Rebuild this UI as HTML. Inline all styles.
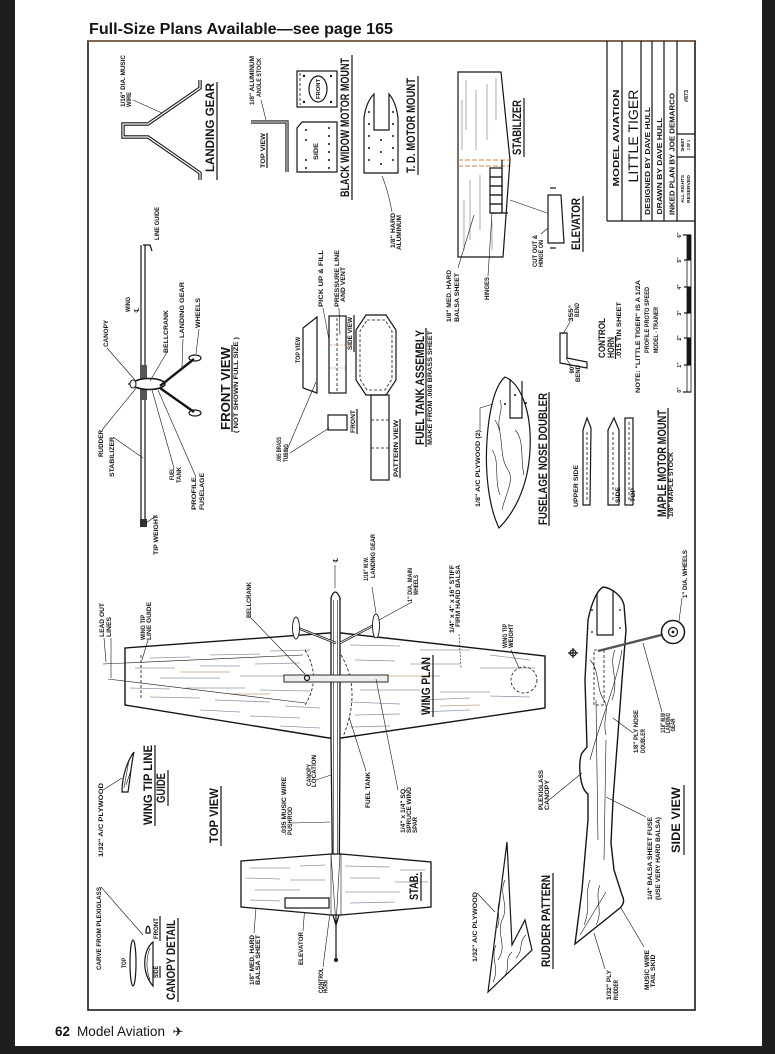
<!DOCTYPE html>
<html><head><meta charset="utf-8">
<style>
html,body{margin:0;padding:0;background:#fff;}
body{width:775px;height:1054px;overflow:hidden;position:relative;}
svg{position:absolute;left:0;top:0;}
text{text-anchor:middle;fill:#151515;}
.s{font:bold 6px "Liberation Sans",sans-serif;}
.h{font:bold 11.5px "Liberation Sans",sans-serif;}
.ln{stroke:#151515;fill:none;stroke-width:1.2;}
.th{stroke:#151515;fill:none;stroke-width:0.6;}
.dash{stroke:#151515;fill:none;stroke-width:0.8;stroke-dasharray:3 2;}
.gr{stroke:#8d98ab;stroke-width:0.8;fill:none;}
.go{stroke:#c9a07a;stroke-width:0.8;fill:none;}
</style></head><body>
<svg width="775" height="1054" viewBox="0 0 775 1054" xmlns="http://www.w3.org/2000/svg">
<!-- page borders -->
<rect x="0" y="0" width="15" height="1054" fill="#1e1e1e"/>
<rect x="762" y="0" width="13" height="1054" fill="#1e1e1e"/>
<rect x="0" y="1046" width="775" height="8" fill="#1e1e1e"/>

<!-- header / footer -->
<text x="89" y="34" style="text-anchor:start;font:bold 15.5px 'Liberation Sans',sans-serif" textLength="304" lengthAdjust="spacingAndGlyphs">Full-Size Plans Available—see page 165</text>
<text x="55" y="1036" style="text-anchor:start;font:bold 14px 'Liberation Sans',sans-serif" textLength="15" lengthAdjust="spacingAndGlyphs">62</text>
<text x="77" y="1036" style="text-anchor:start;font:14px 'Liberation Sans',sans-serif" textLength="88" lengthAdjust="spacingAndGlyphs">Model Aviation</text>
<text x="178" y="1036" style="font:13px 'DejaVu Sans',sans-serif">✈</text>

<!-- frame -->
<rect x="88" y="41" width="607" height="969" fill="none" stroke="#1a1a1a" stroke-width="1.6"/>
<line x1="88" y1="41" x2="695" y2="41" stroke="#a8743a" stroke-width="0.8"/>

<!-- title block -->
<g class="ln" stroke-width="1.2">
<line x1="607" y1="41" x2="607" y2="221"/>
<line x1="607" y1="221" x2="695" y2="221"/>
<line x1="622" y1="41" x2="622" y2="221"/>
<line x1="641" y1="41" x2="641" y2="221"/>
<line x1="652" y1="41" x2="652" y2="221"/>
<line x1="664" y1="41" x2="664" y2="221"/>
<line x1="677" y1="41" x2="677" y2="221"/>
<line x1="677" y1="134" x2="695" y2="134"/>
<line x1="677" y1="157" x2="695" y2="157"/>
</g>
<text transform="translate(619,138) rotate(-90)" style="font:bold 8.5px 'Liberation Sans',sans-serif" textLength="97" lengthAdjust="spacingAndGlyphs">MODEL   AVIATION</text>
<text transform="translate(638,136) rotate(-90)" style="font:13.5px 'Liberation Sans',sans-serif" textLength="93" lengthAdjust="spacingAndGlyphs">LITTLE TIGER</text>
<text transform="translate(650,161) rotate(-90)" style="font:bold 7px 'Liberation Sans',sans-serif" textLength="108" lengthAdjust="spacingAndGlyphs">DESIGNED  BY   DAVE  HULL</text>
<text transform="translate(662,166) rotate(-90)" style="font:bold 7px 'Liberation Sans',sans-serif" textLength="97" lengthAdjust="spacingAndGlyphs">DRAWN  BY  DAVE  HULL</text>
<text transform="translate(674.5,154) rotate(-90)" style="font:bold 7px 'Liberation Sans',sans-serif" textLength="122" lengthAdjust="spacingAndGlyphs">INKED  PLAN  BY  JOE  DEMARCO</text>
<text transform="translate(684,189) rotate(-90)" style="font:bold 4.5px 'Liberation Sans',sans-serif" textLength="28" lengthAdjust="spacingAndGlyphs">ALL  RIGHTS</text>
<text transform="translate(690,189) rotate(-90)" style="font:bold 4.5px 'Liberation Sans',sans-serif" textLength="28" lengthAdjust="spacingAndGlyphs">RESERVED</text>
<text transform="translate(684,145) rotate(-90)" style="font:bold 4.5px 'Liberation Sans',sans-serif" textLength="13" lengthAdjust="spacingAndGlyphs">SHEET</text>
<text transform="translate(690,145) rotate(-90)" style="font:bold 4.5px 'Liberation Sans',sans-serif" textLength="10" lengthAdjust="spacingAndGlyphs">1 OF 1</text>
<text transform="translate(688,96) rotate(-90)" style="font:bold 5px 'Liberation Sans',sans-serif" textLength="12" lengthAdjust="spacingAndGlyphs">#873</text>

<!-- scale bar -->
<rect x="687" y="235" width="4" height="157" fill="#fff" stroke="#151515" stroke-width="0.8"/>
<rect x="687" y="235" width="4" height="25" fill="#151515"/>
<rect x="687" y="287" width="4" height="26" fill="#151515"/>
<rect x="687" y="338" width="4" height="27" fill="#151515"/>
<g class="ln" stroke-width="0.8">
<line x1="683" y1="235" x2="691" y2="235"/><line x1="684" y1="260" x2="691" y2="260"/><line x1="684" y1="287" x2="691" y2="287"/>
<line x1="684" y1="313" x2="691" y2="313"/><line x1="684" y1="338" x2="691" y2="338"/><line x1="684" y1="365" x2="691" y2="365"/><line x1="683" y1="392" x2="691" y2="392"/>
</g>
<g class="s" style="font-size:5px">
<text transform="translate(681,235) rotate(-90)">6"</text>
<text transform="translate(681,260) rotate(-90)">5"</text>
<text transform="translate(681,287) rotate(-90)">4"</text>
<text transform="translate(681,313) rotate(-90)">3"</text>
<text transform="translate(681,338) rotate(-90)">2"</text>
<text transform="translate(681,365) rotate(-90)">1"</text>
<text transform="translate(681,390) rotate(-90)">0"</text>
</g>

<!-- LANDING GEAR (top left) -->
<path d="M200,80 L200,88 L148,124 L123,124 L123,137 L148,137 L200,173 L200,180" stroke="#151515" stroke-width="3.4" fill="none"/>
<path d="M200,80 L200,88 L148,124 L123,124 L123,137 L148,137 L200,173 L200,180" stroke="#fff" stroke-width="1.2" fill="none"/>
<line class="th" x1="133" y1="100" x2="162" y2="113"/>

<!-- angle stock -->
<path d="M251,122 L287,122 L287,172" stroke="#151515" stroke-width="3.2" fill="none"/>
<path d="M251,122 L287,122 L287,172" stroke="#fff" stroke-width="1" fill="none"/>
<line class="th" x1="261" y1="100" x2="266" y2="120"/>

<!-- black widow mount -->
<rect x="297" y="71" width="40" height="36" class="ln" stroke-width="1.4"/>
<line class="dash" x1="300" y1="73" x2="300" y2="105"/>
<ellipse cx="318" cy="89" rx="9" ry="13" class="ln"/>
<g fill="#151515"><circle cx="304" cy="76" r="1.2"/><circle cx="331" cy="76" r="1.2"/><circle cx="304" cy="102" r="1.2"/><circle cx="331" cy="102" r="1.2"/></g>
<path class="ln" stroke-width="1.4" d="M297,128 L302,122 L337,122 L337,172 L297,172 Z"/>
<g fill="#151515">
<circle cx="306" cy="130" r="1"/><circle cx="306" cy="140" r="1"/><circle cx="306" cy="160" r="1"/><circle cx="306" cy="168" r="1"/>
<circle cx="329" cy="128" r="1"/><circle cx="329" cy="136" r="1"/><circle cx="329" cy="144" r="1"/><circle cx="329" cy="152" r="1"/><circle cx="329" cy="160" r="1"/><circle cx="329" cy="168" r="1"/>
</g>

<!-- T.D. motor mount -->
<path class="ln" stroke-width="1.3" d="M364,173 L364,118 Q366,102 374,94 L374,130 L389,130 L389,94 Q396,102 398,118 L398,173 Z"/>
<g fill="#151515">
<circle cx="369" cy="112" r="1"/><circle cx="369" cy="124" r="1"/><circle cx="369" cy="136" r="1"/><circle cx="369" cy="148" r="1"/><circle cx="369" cy="160" r="1"/>
<circle cx="393" cy="112" r="1"/><circle cx="393" cy="124" r="1"/><circle cx="393" cy="136" r="1"/><circle cx="393" cy="148" r="1"/><circle cx="393" cy="160" r="1"/>
<circle cx="381" cy="140" r="1"/><circle cx="381" cy="152" r="1"/><circle cx="381" cy="164" r="1"/>
</g>
<path class="th" d="M392,212 Q388,190 382,176"/>

<!-- stabilizer (top right) -->
<polygon class="ln" stroke-width="1.3" points="458,72 501,72 510,160 503,257 458,257" fill="#fff"/>
<g class="gr">
<line x1="466" y1="80" x2="466" y2="130"/><line x1="476" y1="90" x2="476" y2="150"/><line x1="487" y1="84" x2="487" y2="140"/>
<line x1="496" y1="78" x2="496" y2="120"/><line x1="470" y1="180" x2="470" y2="240"/><line x1="480" y1="175" x2="480" y2="230"/>
<line x1="464" y1="200" x2="464" y2="250"/><line x1="462" y1="100" x2="462" y2="150"/><line x1="492" y1="220" x2="492" y2="250"/>
</g>
<line x1="458" y1="160" x2="509" y2="160" stroke="#c98a4a" stroke-width="0.9" stroke-dasharray="5 2"/>
<line x1="458" y1="166" x2="509" y2="166" stroke="#c98a4a" stroke-width="0.9" stroke-dasharray="5 2"/>
<g class="ln" stroke-width="0.7">
<rect x="490" y="168" width="12" height="9"/><rect x="490" y="177" width="12" height="9"/><rect x="490" y="186" width="12" height="9"/><rect x="490" y="195" width="12" height="9"/><rect x="490" y="204" width="12" height="9"/>
<line x1="502" y1="160" x2="502" y2="213"/>
<line x1="490" y1="213" x2="508" y2="213"/>
</g>
<polygon class="ln" points="548,195 561,195 564,243 548,243"/>
<line class="ln" x1="550" y1="188" x2="556" y2="188"/>
<line class="ln" x1="550" y1="248" x2="556" y2="248"/>
<line class="th" x1="510" y1="200" x2="547" y2="213"/>
<line class="th" x1="458" y1="268" x2="474" y2="215"/>
<line class="th" x1="488" y1="276" x2="492" y2="213"/>
<line class="th" x1="541" y1="234" x2="548" y2="228"/>

<!-- control horn -->
<path class="ln" d="M560,333 L567,333 L567,358 L587,362 L587,368 L560,363 Z"/>
<line class="th" x1="570" y1="322" x2="563" y2="334"/>
<line class="th" x1="571" y1="366" x2="566" y2="358"/>

<!-- FRONT VIEW -->
<line class="ln" stroke-width="0.9" x1="141" y1="245" x2="141" y2="527"/>
<line class="ln" stroke-width="0.9" x1="145" y1="245" x2="145" y2="527"/>
<path class="ln" d="M143,245 L150,245 L152,251"/>
<rect x="140" y="365" width="7" height="35" fill="#555"/>
<rect x="140" y="519" width="7" height="8" fill="#333"/>
<line class="ln" x1="128" y1="384" x2="143" y2="384"/>
<ellipse cx="149" cy="384" rx="16" ry="5.5" fill="#fff" stroke="#151515" stroke-width="1.5"/>
<ellipse cx="133" cy="384" rx="3" ry="4" fill="#fff" stroke="#151515" stroke-width="1"/>
<path d="M160,386 L194,359 M160,388 L194,412" stroke="#151515" stroke-width="2.4" fill="none"/>
<ellipse cx="195" cy="358" rx="6" ry="3" class="ln" fill="#fff"/>
<ellipse cx="195" cy="413" rx="6" ry="3" class="ln" fill="#fff"/>
<g class="th">
<line x1="107" y1="348" x2="135" y2="380"/><line x1="167" y1="352" x2="150" y2="381"/>
<line x1="183" y1="339" x2="182" y2="368"/><line x1="199" y1="329" x2="196" y2="354"/>
<line x1="102" y1="430" x2="137" y2="387"/><line x1="113" y1="437" x2="143" y2="458"/>
<line x1="174" y1="468" x2="152" y2="390"/><line x1="196" y1="477" x2="158" y2="390"/>
<line x1="157" y1="515" x2="146" y2="523"/>
</g>

<!-- FUEL TANK ASSEMBLY -->
<polygon class="ln" points="317,317 317,393 303,388 303,328"/>
<rect x="329" y="316" width="17" height="77" class="ln"/>
<line class="dash" x1="337" y1="318" x2="337" y2="391"/>
<line x1="330" y1="345" x2="345" y2="345" stroke="#c98a4a" stroke-dasharray="2 1.5" stroke-width="0.8"/>
<line x1="330" y1="368" x2="345" y2="368" stroke="#c98a4a" stroke-dasharray="2 1.5" stroke-width="0.8"/>
<polygon class="ln" points="366,315 386,315 396,330 396,380 386,395 366,395 356,380 356,330"/>
<polygon class="dash" points="367,320 385,320 392,331 392,379 385,390 367,390 360,379 360,331"/>
<rect x="371" y="395" width="18" height="85" class="ln"/>
<line class="dash" x1="371" y1="420" x2="389" y2="420"/>
<line class="dash" x1="371" y1="448" x2="389" y2="448"/>
<rect x="328" y="415" width="19" height="15" class="ln"/>
<g class="th">
<line x1="287" y1="450" x2="316" y2="382"/><line x1="290" y1="453" x2="329" y2="428"/>
<line x1="323" y1="308" x2="329" y2="340"/><line x1="339" y1="308" x2="340" y2="335"/>
</g>

<!-- fuselage nose doubler -->
<path class="ln" stroke-width="1.3" d="M505,377 C520,383 532,410 530,450 C528,490 512,515 499,528 C488,505 485,470 487,440 C489,410 495,385 505,377 Z"/>
<path class="ln" d="M510,379 L510,418 L522,418 L522,381"/>
<g class="th">
<path d="M495,420 C505,435 498,455 508,470 C515,480 505,495 502,510"/>
<path d="M492,450 C500,460 494,480 500,495"/>
<path d="M515,430 C525,440 520,460 524,475"/>
<path d="M500,400 C504,410 496,420 500,430"/>
<path d="M480,430 L480,408 L493,404"/>
</g>
<g fill="#151515"><circle cx="515" cy="395" r="1"/><circle cx="526" cy="403" r="1"/><circle cx="505" cy="404" r="1"/></g>

<!-- maple motor mount pieces -->
<path class="ln" d="M587,418 L591,428 L590,505 L583,505 L583,430 Z"/>
<path class="ln" d="M614,418 L619,430 L619,505 L608,505 L608,430 Z"/>
<rect x="625" y="418" width="8" height="87" class="ln"/>
<line class="dash" x1="613" y1="432" x2="613" y2="500"/>
<line class="dash" x1="629" y1="422" x2="629" y2="500"/>
<line class="dash" x1="587" y1="432" x2="587" y2="500"/>

<!-- WING PLAN / TOP VIEW -->
<polygon points="125,648 329,633 341,633 545,656 545,708 341,738 329,738 125,705" fill="#fff" stroke="#151515" stroke-width="1.4"/>
<g class="gr">
<line x1="150" y1="658" x2="190" y2="657"/><line x1="210" y1="655" x2="260" y2="654"/><line x1="270" y1="651" x2="310" y2="650"/>
<line x1="135" y1="668" x2="175" y2="668"/><line x1="200" y1="666" x2="240" y2="666"/><line x1="255" y1="664" x2="300" y2="663"/>
<line x1="160" y1="678" x2="220" y2="678"/><line x1="240" y1="676" x2="290" y2="676"/>
<line x1="130" y1="688" x2="170" y2="689"/><line x1="185" y1="688" x2="245" y2="688"/><line x1="260" y1="690" x2="310" y2="691"/>
<line x1="150" y1="697" x2="200" y2="698"/><line x1="215" y1="700" x2="270" y2="702"/><line x1="285" y1="706" x2="320" y2="708"/>
<line x1="200" y1="710" x2="240" y2="712"/><line x1="250" y1="716" x2="300" y2="718"/><line x1="280" y1="726" x2="320" y2="728"/>
<line x1="350" y1="645" x2="400" y2="646"/><line x1="420" y1="650" x2="470" y2="650"/><line x1="490" y1="655" x2="530" y2="660"/>
<line x1="355" y1="660" x2="395" y2="661"/><line x1="410" y1="664" x2="460" y2="664"/><line x1="480" y1="668" x2="535" y2="668"/>
<line x1="360" y1="690" x2="420" y2="690"/><line x1="440" y1="692" x2="490" y2="692"/>
<line x1="350" y1="702" x2="400" y2="704"/><line x1="420" y1="700" x2="470" y2="698"/><line x1="490" y1="696" x2="530" y2="697"/>
<line x1="355" y1="715" x2="400" y2="714"/><line x1="420" y1="712" x2="470" y2="710"/><line x1="350" y1="727" x2="390" y2="726"/>
</g>
<g class="go">
<line x1="180" y1="672" x2="230" y2="672"/><line x1="380" y1="676" x2="440" y2="676"/><line x1="230" y1="694" x2="270" y2="694"/><line x1="440" y1="706" x2="480" y2="705"/>
</g>
<!-- lead out lines -->
<line class="th" x1="103" y1="664" x2="303" y2="655"/>
<line class="th" x1="108" y1="679" x2="305" y2="703"/>
<line class="dash" x1="141" y1="655" x2="141" y2="700"/>
<path class="dash" d="M305,650 Q322,678 305,705"/>
<path class="dash" d="M341,655 Q362,690 343,737"/>
<!-- fuselage top view -->
<path d="M331,598 Q335,586 340,598 L340,740 L339,915 L336,925 L333,915 L331,740 Z" fill="#fff" stroke="#151515" stroke-width="1.3"/>
<line class="th" x1="333.5" y1="600" x2="333.5" y2="915"/>
<line class="th" x1="337.5" y1="600" x2="337.5" y2="915"/>
<line class="ln" x1="336" y1="920" x2="336" y2="958"/>
<circle cx="336" cy="960" r="2" fill="#151515"/>
<line class="th" x1="335" y1="565" x2="335" y2="588"/>
<!-- bellcrank -->
<rect x="284" y="675" width="104" height="7" fill="#eee" stroke="#151515" stroke-width="0.9"/>
<circle cx="307" cy="678" r="2.5" class="ln" fill="#fff"/>
<!-- gear top -->
<path d="M336,643 L298,628 M340,643 L376,624" stroke="#151515" stroke-width="2.4" fill="none"/>
<path d="M336,643 L298,628 M340,643 L376,624" stroke="#fff" stroke-width="0.8" fill="none"/>
<ellipse cx="296" cy="628" rx="3.5" ry="11" fill="#fff" stroke="#151515" stroke-width="0.9"/>
<ellipse cx="376" cy="626" rx="3.5" ry="12" fill="#fff" stroke="#151515" stroke-width="0.9"/>
<circle cx="524" cy="680" r="13" class="dash"/>
<g class="th">
<line x1="251" y1="618" x2="305" y2="674"/><line x1="372" y1="587" x2="376" y2="613"/>
<line x1="412" y1="602" x2="379" y2="620"/><line x1="459" y1="634" x2="461" y2="668" stroke-dasharray="2 1.5"/>
<line x1="511" y1="650" x2="519" y2="668"/>
<line x1="104" y1="638" x2="106" y2="662"/><line x1="111" y1="638" x2="111" y2="678"/>
<line x1="148" y1="640" x2="142" y2="660"/>
<line x1="316" y1="780" x2="331" y2="775"/><line x1="292" y1="823" x2="330" y2="822"/>
<line x1="366" y1="771" x2="349" y2="717"/><line x1="398" y1="790" x2="376" y2="679"/>
<line x1="303" y1="931" x2="305" y2="905"/><line x1="323" y1="967" x2="331" y2="905"/>
<line x1="254" y1="933" x2="256" y2="908"/>
</g>
<!-- stab -->
<polygon points="241,861 331,854 341,854 431,862 431,907 341,915 331,915 241,907" fill="#fff" stroke="#151515" stroke-width="1.3"/>
<path d="M331,854 L331,915 M341,854 L341,915" class="th"/>
<g class="gr">
<line x1="250" y1="868" x2="290" y2="868"/><line x1="300" y1="866" x2="325" y2="865"/><line x1="345" y1="866" x2="390" y2="867"/><line x1="400" y1="870" x2="425" y2="870"/>
<line x1="245" y1="878" x2="280" y2="879"/><line x1="290" y1="880" x2="325" y2="880"/><line x1="350" y1="878" x2="380" y2="878"/><line x1="395" y1="882" x2="428" y2="882"/>
<line x1="255" y1="890" x2="300" y2="890"/><line x1="345" y1="892" x2="400" y2="892"/>
<line x1="250" y1="900" x2="280" y2="901"/><line x1="350" y1="903" x2="395" y2="902"/>
</g>
<rect x="285" y="898" width="44" height="10" class="ln" stroke-width="0.9" fill="none"/>
<path d="M331,854 L336,925 L340,854" class="th"/>

<!-- wing tip line guide -->
<path class="ln" d="M122,792 C122,775 128,760 134,752 C131,765 130,780 128,792 Z"/>
<path class="th" d="M124,788 L129,760 M126,785 L131,770"/>
<line class="th" x1="103" y1="790" x2="122" y2="778"/>

<!-- canopy detail -->
<ellipse cx="133" cy="963" rx="3" ry="23" class="ln" fill="#fff"/>
<path class="ln" d="M153,942 C143,950 141,972 153,986 Z"/>
<path class="th" d="M150,948 C146,958 146,970 150,980"/>
<path class="ln" d="M146,933 C146,924 150,924 150,933 Z"/>
<line class="th" x1="101" y1="887" x2="143" y2="935"/>

<!-- rudder pattern -->
<polygon class="ln" stroke-width="1.2" points="507,842 512,945 525,920 532,950 488,992" fill="#fff"/>
<g class="th">
<path d="M505,880 C498,895 510,905 502,920 C496,935 508,945 498,960"/>
<path d="M496,945 C490,958 500,968 493,982"/>
<path d="M512,952 C503,960 512,968 503,978"/>
<path d="M526,935 C518,942 524,950 516,958"/>
<path d="M500,900 C495,910 502,918 497,928"/>
<line x1="477" y1="893" x2="495" y2="912"/>
</g>

<!-- side view -->
<path d="M603,587 C612,588 622,596 624,605 L626,630 L622,680 L617,747 L613,800 L611,843 L614,870 L622,895 Q626,902 620,908 L575,944 L582,890 L588,820 L588,794 C579,788 578,760 582,753 L587,747 L585,680 L588,620 C592,600 598,590 603,587 Z" fill="#fff" stroke="#151515" stroke-width="1.4"/>
<path class="ln" d="M597,593 L597,635 L613,635 L613,591"/>
<g fill="#151515"><circle cx="592" cy="610" r="0.9"/><circle cx="620" cy="610" r="0.9"/><circle cx="620" cy="628" r="0.9"/><circle cx="592" cy="632" r="0.9"/></g>
<g class="th">
<path d="M590,660 C600,670 596,690 604,700 C610,710 602,720 606,735"/>
<path d="M615,650 C608,665 620,680 612,700"/>
<path d="M596,700 L598,840"/><path d="M606,740 L604,860"/>
<path d="M590,880 C584,895 592,905 584,925"/><path d="M600,885 C594,900 604,910 596,925"/>
<path d="M606,892 L580,935"/>
<path d="M622,650 C615,690 600,720 590,760"/>
</g>
<rect x="594" y="650" width="10" height="55" class="dash"/>
<path d="M673,632 L598,651" stroke="#555" stroke-width="2.4"/>
<circle cx="673" cy="632" r="11.5" fill="#fff" stroke="#151515" stroke-width="1.5"/>
<circle cx="673" cy="632" r="4.5" class="ln"/>
<circle cx="673" cy="632" r="1.4" fill="#151515"/>
<circle cx="573" cy="653" r="3" class="ln"/>
<path class="ln" d="M568,653 L578,653 M573,648 L573,658"/>
<g class="th">
<line x1="682" y1="598" x2="679" y2="621"/><line x1="662" y1="712" x2="643" y2="643"/>
<line x1="633" y1="733" x2="613" y2="718"/><line x1="549" y1="800" x2="582" y2="773"/>
<line x1="646" y1="817" x2="606" y2="797"/><line x1="644" y1="947" x2="621" y2="908"/>
<line x1="605" y1="969" x2="594" y2="933"/>
</g>

<!-- UNDERLINES -->
<g class="ln" stroke-width="1">
<line x1="217" y1="82" x2="217" y2="180"/>
<line x1="267" y1="133" x2="267" y2="168"/>
<line x1="352" y1="55" x2="352" y2="200"/>
<line x1="418" y1="76" x2="418" y2="175"/>
<line x1="524" y1="98" x2="524" y2="157"/>
<line x1="583" y1="196" x2="583" y2="252"/>
<line x1="615.5" y1="336" x2="615.5" y2="359"/>
<line x1="232" y1="345" x2="232" y2="432"/>
<line x1="354" y1="315" x2="354" y2="352"/>
<line x1="357" y1="409" x2="357" y2="434"/>
<line x1="400" y1="419" x2="400" y2="478"/>
<line x1="426" y1="328" x2="426" y2="447"/>
<line x1="549" y1="392" x2="549" y2="526"/>
<line x1="668" y1="408" x2="668" y2="519"/>
<line x1="433" y1="655" x2="433" y2="717"/>
<line x1="221" y1="786" x2="221" y2="846"/>
<line x1="155" y1="745" x2="155" y2="826"/>
<line x1="168" y1="770" x2="168" y2="806"/>
<line x1="178" y1="918" x2="178" y2="1002"/>
<line x1="160" y1="916" x2="160" y2="941"/>
<line x1="160" y1="966" x2="160" y2="978"/>
<line x1="421" y1="872" x2="421" y2="901"/>
<line x1="553" y1="873" x2="553" y2="969"/>
<line x1="684" y1="785" x2="684" y2="855"/>
</g>

<!-- SECTION TITLES -->
<g class="h">
<text transform="translate(214,127.5) rotate(-90)" textLength="89" lengthAdjust="spacingAndGlyphs">LANDING   GEAR</text>
<text transform="translate(349,127.5) rotate(-90)" textLength="139" lengthAdjust="spacingAndGlyphs">BLACK  WIDOW  MOTOR  MOUNT</text>
<text transform="translate(415,125.5) rotate(-90)" textLength="95" lengthAdjust="spacingAndGlyphs">T. D.  MOTOR  MOUNT</text>
<text transform="translate(521,127.5) rotate(-90)" textLength="55" lengthAdjust="spacingAndGlyphs">STABILIZER</text>
<text transform="translate(580,224) rotate(-90)" textLength="52" lengthAdjust="spacingAndGlyphs">ELEVATOR</text>
<text transform="translate(605,338) rotate(-90)" style="font-size:9px" textLength="40" lengthAdjust="spacingAndGlyphs">CONTROL</text>
<text transform="translate(614,347.5) rotate(-90)" style="font-size:9px" textLength="21" lengthAdjust="spacingAndGlyphs">HORN</text>
<text transform="translate(230,388.5) rotate(-90)" style="font-size:13px" textLength="83" lengthAdjust="spacingAndGlyphs">FRONT   VIEW</text>
<text transform="translate(424,387.5) rotate(-90)" textLength="115" lengthAdjust="spacingAndGlyphs">FUEL  TANK  ASSEMBLY</text>
<text transform="translate(547,459) rotate(-90)" textLength="132" lengthAdjust="spacingAndGlyphs">FUSELAGE  NOSE  DOUBLER</text>
<text transform="translate(666,463.5) rotate(-90)" textLength="107" lengthAdjust="spacingAndGlyphs">MAPLE  MOTOR  MOUNT</text>
<text transform="translate(430,686) rotate(-90)" textLength="58" lengthAdjust="spacingAndGlyphs">WING    PLAN</text>
<text transform="translate(218,815.5) rotate(-90)" textLength="55" lengthAdjust="spacingAndGlyphs">TOP   VIEW</text>
<text transform="translate(152,785) rotate(-90)" textLength="80" lengthAdjust="spacingAndGlyphs">WING   TIP   LINE</text>
<text transform="translate(165,788) rotate(-90)" textLength="30" lengthAdjust="spacingAndGlyphs">GUIDE</text>
<text transform="translate(175,960) rotate(-90)" textLength="80" lengthAdjust="spacingAndGlyphs">CANOPY   DETAIL</text>
<text transform="translate(418,886.5) rotate(-90)" textLength="27" lengthAdjust="spacingAndGlyphs">STAB.</text>
<text transform="translate(550,921) rotate(-90)" textLength="92" lengthAdjust="spacingAndGlyphs">RUDDER   PATTERN</text>
<text transform="translate(680,820) rotate(-90)" textLength="66" lengthAdjust="spacingAndGlyphs">SIDE   VIEW</text>
</g>

<!-- SMALL LABELS -->
<g class="s">
<text transform="translate(125,81) rotate(-90)" textLength="52" lengthAdjust="spacingAndGlyphs">1/16" DIA. MUSIC</text>
<text transform="translate(131,99.5) rotate(-90)" textLength="15" lengthAdjust="spacingAndGlyphs">WIRE</text>
<text transform="translate(254,80.5) rotate(-90)" textLength="49" lengthAdjust="spacingAndGlyphs">1/8" ALUMINUM</text>
<text transform="translate(261,77.5) rotate(-90)" textLength="39" lengthAdjust="spacingAndGlyphs">ANGLE STOCK</text>
<text transform="translate(265,150.5) rotate(-90)" textLength="35" lengthAdjust="spacingAndGlyphs">TOP  VIEW</text>
<text transform="translate(320,89) rotate(-90)" style="font-size:5.5px" textLength="20" lengthAdjust="spacingAndGlyphs">FRONT</text>
<text transform="translate(318,151.5) rotate(-90)" textLength="17" lengthAdjust="spacingAndGlyphs">SIDE</text>
<text transform="translate(395,230.5) rotate(-90)" textLength="35" lengthAdjust="spacingAndGlyphs">1/8" HARD</text>
<text transform="translate(401,232.5) rotate(-90)" textLength="35" lengthAdjust="spacingAndGlyphs">ALUMINUM</text>
<text transform="translate(537,251) rotate(-90)" textLength="32" lengthAdjust="spacingAndGlyphs">CUT OUT &amp;</text>
<text transform="translate(543,253.5) rotate(-90)" textLength="27" lengthAdjust="spacingAndGlyphs">HINGE ON</text>
<text transform="translate(451,296) rotate(-90)" textLength="52" lengthAdjust="spacingAndGlyphs">1/8" MED. HARD</text>
<text transform="translate(459,297.5) rotate(-90)" textLength="49" lengthAdjust="spacingAndGlyphs">BALSA SHEET</text>
<text transform="translate(489,288.5) rotate(-90)" textLength="23" lengthAdjust="spacingAndGlyphs">HINGES</text>
<text transform="translate(573,313.5) rotate(-90)" textLength="17" lengthAdjust="spacingAndGlyphs">355°</text>
<text transform="translate(579,310) rotate(-90)" textLength="14" lengthAdjust="spacingAndGlyphs">BEND</text>
<text transform="translate(574,369) rotate(-90)" textLength="9" lengthAdjust="spacingAndGlyphs">90°</text>
<text transform="translate(580,373.5) rotate(-90)" textLength="17" lengthAdjust="spacingAndGlyphs">BEND</text>
<text transform="translate(621,330) rotate(-90)" textLength="56" lengthAdjust="spacingAndGlyphs">.015  TIN  SHEET</text>
<text transform="translate(640,336.5) rotate(-90)" textLength="113" lengthAdjust="spacingAndGlyphs">NOTE: "LITTLE  TIGER"  IS  A  1/2A</text>
<text transform="translate(649,320) rotate(-90)" textLength="66" lengthAdjust="spacingAndGlyphs">PROFILE  PROTO  SPEED</text>
<text transform="translate(658,330) rotate(-90)" textLength="46" lengthAdjust="spacingAndGlyphs">MODEL - TRAINER</text>
<text transform="translate(159,223.5) rotate(-90)" textLength="33" lengthAdjust="spacingAndGlyphs">LINE  GUIDE</text>
<text transform="translate(130,304.5) rotate(-90)" textLength="15" lengthAdjust="spacingAndGlyphs">WING</text>
<text transform="translate(139,310) rotate(-90)" style="font:7px 'DejaVu Sans',sans-serif">℄</text>
<text transform="translate(108,333.5) rotate(-90)" textLength="27" lengthAdjust="spacingAndGlyphs">CANOPY</text>
<text transform="translate(168,331.5) rotate(-90)" textLength="43" lengthAdjust="spacingAndGlyphs">BELLCRANK</text>
<text transform="translate(184,310) rotate(-90)" textLength="56" lengthAdjust="spacingAndGlyphs">LANDING  GEAR</text>
<text transform="translate(200,313) rotate(-90)" textLength="30" lengthAdjust="spacingAndGlyphs">WHEELS</text>
<text transform="translate(103,443.5) rotate(-90)" textLength="27" lengthAdjust="spacingAndGlyphs">RUDDER</text>
<text transform="translate(114,457) rotate(-90)" textLength="40" lengthAdjust="spacingAndGlyphs">STABILIZER</text>
<text transform="translate(174,474) rotate(-90)" textLength="12" lengthAdjust="spacingAndGlyphs">FUEL</text>
<text transform="translate(181,475) rotate(-90)" textLength="16" lengthAdjust="spacingAndGlyphs">TANK</text>
<text transform="translate(196,493.5) rotate(-90)" textLength="33" lengthAdjust="spacingAndGlyphs">PROFILE</text>
<text transform="translate(204,491.5) rotate(-90)" textLength="37" lengthAdjust="spacingAndGlyphs">FUSELAGE</text>
<text transform="translate(158,535) rotate(-90)" textLength="40" lengthAdjust="spacingAndGlyphs">TIP  WEIGHT</text>
<text transform="translate(238,385) rotate(-90)" textLength="96" lengthAdjust="spacingAndGlyphs">( NOT  SHOWN  FULL  SIZE )</text>
<text transform="translate(281,449.5) rotate(-90)" textLength="25" lengthAdjust="spacingAndGlyphs">.065 BRASS</text>
<text transform="translate(288,453) rotate(-90)" textLength="18" lengthAdjust="spacingAndGlyphs">TUBING</text>
<text transform="translate(323,278.5) rotate(-90)" textLength="57" lengthAdjust="spacingAndGlyphs">PICK  UP  &amp;  FILL</text>
<text transform="translate(339,278.5) rotate(-90)" textLength="57" lengthAdjust="spacingAndGlyphs">PRESSURE  LINE</text>
<text transform="translate(345,284.5) rotate(-90)" textLength="35" lengthAdjust="spacingAndGlyphs">AND  VENT</text>
<text transform="translate(352,333.5) rotate(-90)" textLength="33" lengthAdjust="spacingAndGlyphs">SIDE  VIEW</text>
<text transform="translate(300,350) rotate(-90)" textLength="26" lengthAdjust="spacingAndGlyphs">TOP  VIEW</text>
<text transform="translate(355,421.5) rotate(-90)" textLength="23" lengthAdjust="spacingAndGlyphs">FRONT</text>
<text transform="translate(398,448.5) rotate(-90)" textLength="57" lengthAdjust="spacingAndGlyphs">PATTERN  VIEW</text>
<text transform="translate(432,388) rotate(-90)" textLength="114" lengthAdjust="spacingAndGlyphs">MAKE  FROM  .008  BRASS  SHEET</text>
<text transform="translate(480,468.5) rotate(-90)" textLength="77" lengthAdjust="spacingAndGlyphs">1/8" A/C  PLYWOOD  (2)</text>
<text transform="translate(578,486) rotate(-90)" textLength="42" lengthAdjust="spacingAndGlyphs">UPPER  SIDE</text>
<text transform="translate(620,495) rotate(-90)" textLength="16" lengthAdjust="spacingAndGlyphs">SIDE</text>
<text transform="translate(635,495) rotate(-90)" textLength="14" lengthAdjust="spacingAndGlyphs">TOP</text>
<text transform="translate(673,484.5) rotate(-90)" textLength="65" lengthAdjust="spacingAndGlyphs">1/8" MAPLE  STOCK</text>
<text transform="translate(104,620) rotate(-90)" textLength="34" lengthAdjust="spacingAndGlyphs">LEAD  OUT</text>
<text transform="translate(111,627) rotate(-90)" textLength="20" lengthAdjust="spacingAndGlyphs">LINES</text>
<text transform="translate(145,627.5) rotate(-90)" textLength="25" lengthAdjust="spacingAndGlyphs">WING  TIP</text>
<text transform="translate(151,621) rotate(-90)" textLength="38" lengthAdjust="spacingAndGlyphs">LINE  GUIDE</text>
<text transform="translate(251,600) rotate(-90)" textLength="36" lengthAdjust="spacingAndGlyphs">BELLCRANK</text>
<text transform="translate(338,560) rotate(-90)" style="font:7px 'DejaVu Sans',sans-serif">℄</text>
<text transform="translate(368,569) rotate(-90)" textLength="24" lengthAdjust="spacingAndGlyphs">1/16" M.W.</text>
<text transform="translate(375,556) rotate(-90)" textLength="44" lengthAdjust="spacingAndGlyphs">LANDING  GEAR</text>
<text transform="translate(412,585) rotate(-90)" textLength="34" lengthAdjust="spacingAndGlyphs">1" DIA. MAIN</text>
<text transform="translate(418,585) rotate(-90)" textLength="20" lengthAdjust="spacingAndGlyphs">WHEELS</text>
<text transform="translate(454,599) rotate(-90)" textLength="68" lengthAdjust="spacingAndGlyphs">1/4" x 4" x 16" STIFF</text>
<text transform="translate(460,596) rotate(-90)" textLength="62" lengthAdjust="spacingAndGlyphs">FIRM  HARD  BALSA</text>
<text transform="translate(507,636) rotate(-90)" textLength="24" lengthAdjust="spacingAndGlyphs">WING  TIP</text>
<text transform="translate(513,636) rotate(-90)" textLength="24" lengthAdjust="spacingAndGlyphs">WEIGHT</text>
<text transform="translate(311,775) rotate(-90)" textLength="22" lengthAdjust="spacingAndGlyphs">CANOPY</text>
<text transform="translate(316,771) rotate(-90)" textLength="32" lengthAdjust="spacingAndGlyphs">LOCATION</text>
<text transform="translate(286,806) rotate(-90)" textLength="58" lengthAdjust="spacingAndGlyphs">.035  MUSIC  WIRE</text>
<text transform="translate(292,821) rotate(-90)" textLength="28" lengthAdjust="spacingAndGlyphs">PUSHROD</text>
<text transform="translate(370,790) rotate(-90)" textLength="36" lengthAdjust="spacingAndGlyphs">FUEL  TANK</text>
<text transform="translate(405,810) rotate(-90)" textLength="46" lengthAdjust="spacingAndGlyphs">1/4" x 1/4" SQ.</text>
<text transform="translate(411,810) rotate(-90)" textLength="46" lengthAdjust="spacingAndGlyphs">SPRUCE  WING</text>
<text transform="translate(417,825) rotate(-90)" textLength="16" lengthAdjust="spacingAndGlyphs">SPAR</text>
<text transform="translate(103,820) rotate(-90)" textLength="74" lengthAdjust="spacingAndGlyphs">1/32" A/C   PLYWOOD</text>
<text transform="translate(101,928.5) rotate(-90)" textLength="83" lengthAdjust="spacingAndGlyphs">CARVE  FROM  PLEXIGLASS</text>
<text transform="translate(126,963) rotate(-90)" textLength="10" lengthAdjust="spacingAndGlyphs">TOP</text>
<text transform="translate(158,972) rotate(-90)" textLength="12" lengthAdjust="spacingAndGlyphs">SIDE</text>
<text transform="translate(158,928.5) rotate(-90)" textLength="21" lengthAdjust="spacingAndGlyphs">FRONT</text>
<text transform="translate(254,960) rotate(-90)" textLength="50" lengthAdjust="spacingAndGlyphs">1/8" MED. HARD</text>
<text transform="translate(260,960) rotate(-90)" textLength="50" lengthAdjust="spacingAndGlyphs">BALSA  SHEET</text>
<text transform="translate(303,948.5) rotate(-90)" textLength="33" lengthAdjust="spacingAndGlyphs">ELEVATOR</text>
<text transform="translate(323,980.5) rotate(-90)" textLength="25" lengthAdjust="spacingAndGlyphs">CONTROL</text>
<text transform="translate(327.5,986.5) rotate(-90)" textLength="13" lengthAdjust="spacingAndGlyphs">HORN</text>
<text transform="translate(477,927) rotate(-90)" textLength="70" lengthAdjust="spacingAndGlyphs">1/32" A/C  PLYWOOD</text>
<text transform="translate(543,790) rotate(-90)" textLength="40" lengthAdjust="spacingAndGlyphs">PLEXIGLASS</text>
<text transform="translate(549,795) rotate(-90)" textLength="30" lengthAdjust="spacingAndGlyphs">CANOPY</text>
<text transform="translate(638,731.5) rotate(-90)" textLength="43" lengthAdjust="spacingAndGlyphs">1/8" PLY NOSE</text>
<text transform="translate(645,741) rotate(-90)" textLength="24" lengthAdjust="spacingAndGlyphs">DOUBLER</text>
<text transform="translate(665,723) rotate(-90)" textLength="20" lengthAdjust="spacingAndGlyphs">1/16" M.W</text>
<text transform="translate(670,723) rotate(-90)" textLength="20" lengthAdjust="spacingAndGlyphs">LANDING</text>
<text transform="translate(675,725) rotate(-90)" textLength="13" lengthAdjust="spacingAndGlyphs">GEAR</text>
<text transform="translate(687,574) rotate(-90)" textLength="48" lengthAdjust="spacingAndGlyphs">1"  DIA.  WHEELS</text>
<text transform="translate(652,858.5) rotate(-90)" textLength="83" lengthAdjust="spacingAndGlyphs">1/4" BALSA  SHEET  FUSE</text>
<text transform="translate(660,858.5) rotate(-90)" textLength="83" lengthAdjust="spacingAndGlyphs">(USE  VERY  HARD  BALSA)</text>
<text transform="translate(649,970) rotate(-90)" textLength="40" lengthAdjust="spacingAndGlyphs">MUSIC  WIRE</text>
<text transform="translate(655,971) rotate(-90)" textLength="33" lengthAdjust="spacingAndGlyphs">TAIL  SKID</text>
<text transform="translate(611,985) rotate(-90)" textLength="30" lengthAdjust="spacingAndGlyphs">1/32" PLY</text>
<text transform="translate(618,990) rotate(-90)" textLength="20" lengthAdjust="spacingAndGlyphs">RUDDER</text>
</g>
</svg>
</body></html>
